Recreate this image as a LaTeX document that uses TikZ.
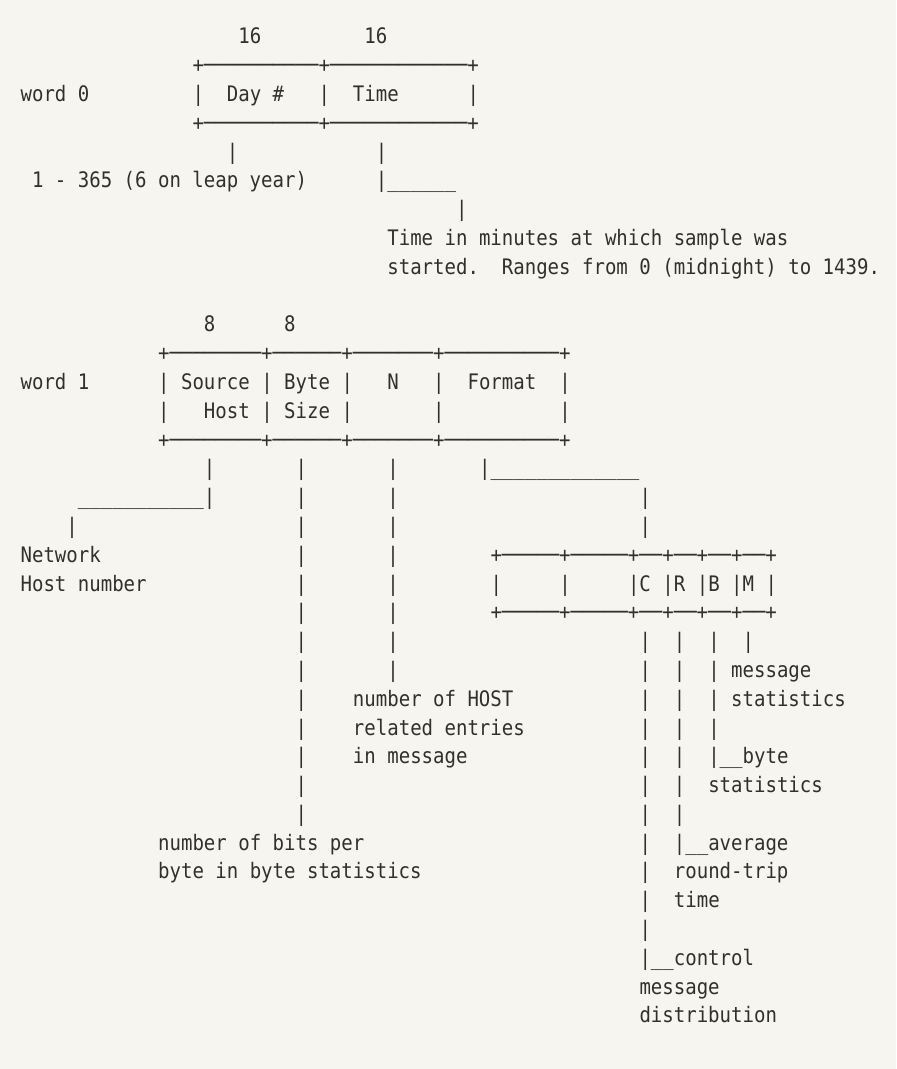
\documentclass[tikz,border=0pt]{standalone}
\usepackage{fontspec}
\usepackage{tikz}
\newfontfamily\asciifont[FakeStretch=0.892]{DejaVu Sans Mono}
\definecolor{paper}{RGB}{247,245,240}
\definecolor{ink}{RGB}{50,48,44}
\frenchspacing

\begin{document}
\begin{tikzpicture}[x=8.595pt,y=-21.5925pt]
\tikzstyle{txt}=[anchor=base west, inner sep=0pt, outer sep=0pt, text=ink, font=\asciifont\fontsize{16}{21.59}\selectfont]
\tikzstyle{bar}=[txt]

\fill[paper] (-1.7976,-1.528) rectangle (76.387,35.60);
\useasboundingbox (-1.7976,-1.528) rectangle (76.387,35.60);

% word 0
	\node[txt] (bits_day) at (19,0) {16};
	\node[txt] (bits_time) at (30,0) {16};
	\node[txt] (w0_top) at (15,1) {+──────────+────────────+};
	\node[txt] (w0) at (0,2) {word 0};
	\node[bar] (w0_l) at (15,2) {|};
	\node[txt] (day) at (18,2) {Day \#};
	\node[bar] (w0_m) at (26,2) {|};
	\node[txt] (time) at (29,2) {Time};
	\node[bar] (w0_r) at (39,2) {|};
	\node[txt] (w0_bot) at (15,3) {+──────────+────────────+};
	\node[bar] (day_v) at (18,4) {|};
	\node[bar] (time_v) at (31,4) {|};
	\node[txt] (day_note) at (1,5) {1 - 365 (6 on leap year)};
	\node[txt] (time_h) at (31,5) {|\_\_\_\_\_\_};
	\node[bar] (time_v2) at (38,6) {|};
	\node[txt] (time_note1) at (32,7) {Time in minutes at which sample was};
	\node[txt] (time_note2) at (32,8) {started.\ \ Ranges from 0 (midnight) to 1439.};

% word 1
	\node[txt] (bits_src) at (16,10) {8};
	\node[txt] (bits_size) at (23,10) {8};
	\node[txt] (w1_top) at (12,11) {+────────+──────+───────+──────────+};
	\node[txt] (w1) at (0,12) {word 1};
	\node[bar] (w1_a) at (12,12) {|};
	\node[txt] (src) at (14,12) {Source};
	\node[bar] (w1_b) at (21,12) {|};
	\node[txt] (size) at (23,12) {Byte};
	\node[bar] (w1_c) at (28,12) {|};
	\node[txt] (num) at (32,12) {N};
	\node[bar] (w1_d) at (36,12) {|};
	\node[txt] (fmt) at (39,12) {Format};
	\node[bar] (w1_e) at (47,12) {|};
	\node[bar] (w1_a2) at (12,13) {|};
	\node[txt] (src2) at (16,13) {Host};
	\node[bar] (w1_b2) at (21,13) {|};
	\node[txt] (size2) at (23,13) {Size};
	\node[bar] (w1_c2) at (28,13) {|};
	\node[bar] (w1_d2) at (36,13) {|};
	\node[bar] (w1_e2) at (47,13) {|};
	\node[txt] (w1_bot) at (12,14) {+────────+──────+───────+──────────+};

% leads under word 1
	\node[bar] (src_v) at (16,15) {|};
	\node[txt] (src_h) at (5,16) {\_\_\_\_\_\_\_\_\_\_\_|};
	\node[bar] (src_v2) at (4,17) {|};
	\node[txt] (src_note1) at (0,18) {Network};
	\node[txt] (src_note2) at (0,19) {Host number};
	\foreach \r in {15,...,27}
		\node[bar] (size_v\r) at (24,\r) {|};
	\foreach \r in {15,...,22}
		\node[bar] (num_v\r) at (32,\r) {|};
	\node[txt] (num_note1) at (29,23) {number of HOST};
	\node[txt] (num_note2) at (29,24) {related entries};
	\node[txt] (num_note3) at (29,25) {in message};
	\node[txt] (size_note1) at (12,28) {number of bits per};
	\node[txt] (size_note2) at (12,29) {byte in byte statistics};
	\node[txt] (fmt_h) at (40,15) {|\_\_\_\_\_\_\_\_\_\_\_\_\_};
	\node[bar] (fmt_v1) at (54,16) {|};
	\node[bar] (fmt_v2) at (54,17) {|};

% format field
	\node[txt] (f_top) at (41,18) {+─────+─────+──+──+──+──+};
	\node[bar] (f_a) at (41,19) {|};
	\node[bar] (f_b) at (47,19) {|};
	\node[txt] (f_c) at (53,19) {|C};
	\node[txt] (f_r) at (56,19) {|R};
	\node[txt] (f_bb) at (59,19) {|B};
	\node[txt] (f_m) at (62,19) {|M};
	\node[bar] (f_e) at (65,19) {|};
	\node[txt] (f_bot) at (41,20) {+─────+─────+──+──+──+──+};
	\foreach \r in {21,...,31}
		\node[bar] (c_v\r) at (54,\r) {|};
	\foreach \r in {21,...,27}
		\node[bar] (r_v\r) at (57,\r) {|};
	\foreach \r in {21,...,24}
		\node[bar] (b_v\r) at (60,\r) {|};
	\node[bar] (m_v) at (63,21) {|};
	\node[txt] (m_note1) at (62,22) {message};
	\node[txt] (m_note2) at (62,23) {statistics};
	\node[txt] (b_note1) at (60,25) {|\_\_byte};
	\node[txt] (b_note2) at (60,26) {statistics};
	\node[txt] (r_note1) at (57,28) {|\_\_average};
	\node[txt] (r_note2) at (57,29) {round-trip};
	\node[txt] (r_note3) at (57,30) {time};
	\node[txt] (c_note1) at (54,32) {|\_\_control};
	\node[txt] (c_note2) at (54,33) {message};
	\node[txt] (c_note3) at (54,34) {distribution};
\end{tikzpicture}
\end{document}
